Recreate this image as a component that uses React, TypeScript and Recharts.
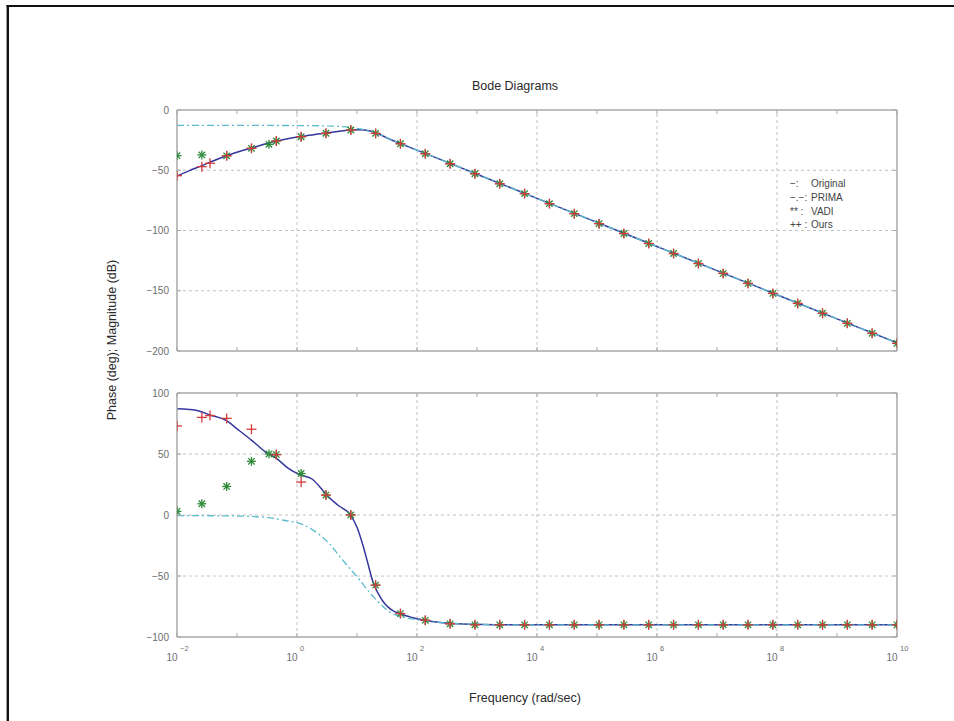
import React from 'react';
import { LineChart, Line, XAxis, YAxis, ReferenceLine } from 'recharts';

// ---- data (x = log10 of frequency in rad/sec) ----
const xTicks = [-2, -1, 0, 1, 2, 3, 4, 5, 6, 7, 8, 9, 10];
const xGrid = [0, 2, 4, 6, 8];
const magTicks = [-200, -150, -100, -50, 0];
const phaseTicks = [-100, -50, 0, 50, 100];

const origMagFreq = [-2, -1.8, -1.586, -1.4, -1.172, -1, -0.759, -0.5, -0.345, -0.15, 0.069, 0.3, 0.483, 0.7, 0.897, 1.05, 1.2, 1.31, 1.5, 1.724, 2, 3, 4, 5, 6, 7, 8, 9, 10];
const origMag = [-54.8, -50.5, -46.2, -42.3, -38, -35, -31.6, -27.8, -25.8, -23.8, -22, -20.3, -19.2, -17.6, -16.6, -16.3, -17.2, -18.8, -23.2, -27.8, -33.3, -53.3, -73.3, -93.3, -113.3, -133.3, -153.3, -173.3, -193.3];

const primaMagFreq = [-2, -1, 0, 0.5, 0.75, 1.0, 1.2, 1.31, 1.5, 1.724, 2, 3, 4, 5, 6, 7, 8, 9, 10];
const primaMag = [-12.8, -12.8, -12.9, -13.2, -13.8, -15.2, -17.3, -18.8, -23.2, -27.8, -33.3, -53.3, -73.3, -93.3, -113.3, -133.3, -153.3, -173.3, -193.3];

const origPhaseFreq = [-2, -1.8, -1.65, -1.45, -1.183, -0.983, -0.75, -0.533, -0.333, -0.15, 0.05, 0.25, 0.4, 0.483, 0.683, 0.883, 1.0, 1.1, 1.183, 1.267, 1.35, 1.467, 1.583, 1.717, 1.917, 2.133, 2.55, 2.967, 3.383, 10];
const origPhase = [87, 86.5, 85.5, 82, 77.5, 70, 61, 52, 46, 38.5, 33, 29.5, 22, 17, 8, 0.5, -10, -25, -40, -55, -64, -73, -78, -81, -84, -86.3, -88.8, -89.6, -90, -90];

const primaPhaseFreq = [-2, -1, -0.5, -0.2, 0.05, 0.383, 0.55, 0.717, 0.883, 1.05, 1.2, 1.33, 1.55, 1.75, 2.0, 2.4, 3.0, 3.5, 10];
const primaPhase = [-0.5, -0.8, -2, -4.5, -7, -16.5, -24, -34.3, -44, -53.5, -63, -70, -79.7, -83.5, -85.8, -88.3, -89.6, -90, -90];

const oursFreq = [-2, -1.586, -1.45, -1.172, -0.759, -0.345, 0.069, 0.483, 0.897, 1.31, 1.724, 2.138, 2.552, 2.966, 3.379, 3.793, 4.207, 4.621, 5.034, 5.448, 5.862, 6.276, 6.69, 7.103, 7.517, 7.931, 8.345, 8.759, 9.172, 9.586, 10];
const oursMag = [-54.5, -47, -44.2, -38, -31.8, -25.7, -22.2, -19.3, -16.6, -19.4, -28, -36.3, -44.6, -52.9, -61.2, -69.4, -77.7, -86, -94.3, -102.5, -110.8, -119.1, -127.4, -135.6, -143.9, -152.2, -160.5, -168.7, -177, -185.3, -193.6];
const oursPhase = [73, 80, 81.5, 79.2, 70.3, 49.5, 27, 16.3, 0, -57.5, -80.8, -86.3, -89.2, -90, -90, -90, -90, -90, -90, -90, -90, -90, -90, -90, -90, -90, -90, -90, -90, -90, -90];

const vadiFreq = [-2, -1.586, -1.172, -0.759, -0.467, -0.345, 0.069, 0.483, 0.897, 1.31, 1.724, 2.138, 2.552, 2.966, 3.379, 3.793, 4.207, 4.621, 5.034, 5.448, 5.862, 6.276, 6.69, 7.103, 7.517, 7.931, 8.345, 8.759, 9.172, 9.586, 10];
const vadiMag = [-37.9, -37.3, -38, -31.8, -28.5, -25.7, -22.2, -19.3, -16.6, -19.4, -28, -36.3, -44.6, -52.9, -61.2, -69.4, -77.7, -86, -94.3, -102.5, -110.8, -119.1, -127.4, -135.6, -143.9, -152.2, -160.5, -168.7, -177, -185.3, -193.6];
const vadiPhase = [3, 9.2, 23.4, 44, 50, 49.5, 34, 16.3, 0, -57.5, -80.8, -86.3, -89.2, -90, -90, -90, -90, -90, -90, -90, -90, -90, -90, -90, -90, -90, -90, -90, -90, -90, -90];

const legendPrefixes = ['\u2212:', '\u2212.\u2212:', '**  :', '++  :'];
const legendNames = ['Original', 'PRIMA', 'VADI', 'Ours'];

// ---- styles ----
const FONT = '"Liberation Sans", Arial, Helvetica, sans-serif';
const AXIS = '#a8a8a8';
const GRID = '#c2c2c2';
const TICKTXT = '#6e6e6e';
const BLUE = '#35379c';
const CYAN = '#5cbccc';
const GREEN = '#2f8a3a';
const RED = '#d23c3c';

const toData = (xs: number[], ys: number[]) => xs.map((e, i) => ({ e, y: ys[i] }));

const PlusDot = (p: any) => {
  const { cx, cy } = p;
  if (cx == null || cy == null) return <g />;
  const s = 5;
  return (
    <g>
      <line x1={cx - s} y1={cy} x2={cx + s} y2={cy} stroke={RED} strokeWidth={1.3} />
      <line x1={cx} y1={cy - s} x2={cx} y2={cy + s} stroke={RED} strokeWidth={1.3} />
    </g>
  );
};

const StarDot = (p: any) => {
  const { cx, cy } = p;
  if (cx == null || cy == null) return <g />;
  const s = 4.5;
  const d = 3.2;
  return (
    <g stroke={GREEN} strokeWidth={1.3}>
      <line x1={cx - s} y1={cy} x2={cx + s} y2={cy} />
      <line x1={cx} y1={cy - s} x2={cx} y2={cy + s} />
      <line x1={cx - d} y1={cy - d} x2={cx + d} y2={cy + d} />
      <line x1={cx - d} y1={cy + d} x2={cx + d} y2={cy - d} />
    </g>
  );
};

const XTickBottom = (p: any) => {
  const { x, y, payload, showLabel } = p;
  const v = payload.value;
  return (
    <g>
      <line x1={x} y1={y} x2={x} y2={y - 4} stroke={AXIS} strokeWidth={1} />
      {showLabel && v % 2 === 0 && (
        <g fontFamily={FONT} fill={TICKTXT}>
          <text x={x + 0.5} y={y + 24} textAnchor="end" fontSize={10}>10</text>
          <text x={x + 3} y={y + 14} textAnchor="start" fontSize={7.5}>{String(v).replace('-', '\u2212')}</text>
        </g>
      )}
    </g>
  );
};

const XTickTop = (p: any) => {
  const { x, y } = p;
  return <line x1={x} y1={y} x2={x} y2={y + 4} stroke={AXIS} strokeWidth={1} />;
};

const YTickLeft = (p: any) => {
  const { x, y, payload } = p;
  return (
    <g>
      <line x1={x} y1={y} x2={x + 4} y2={y} stroke={AXIS} strokeWidth={1} />
      <text x={x - 8} y={y + 3.5} textAnchor="end" fontSize={10} fontFamily={FONT} fill={TICKTXT}>
        {String(payload.value).replace('-', '\u2212')}
      </text>
    </g>
  );
};

const YTickRight = (p: any) => {
  const { x, y } = p;
  return <line x1={x} y1={y} x2={x - 4} y2={y} stroke={AXIS} strokeWidth={1} />;
};

type PanelProps = {
  height: number;
  margin: { top: number; right: number; bottom: number; left: number };
  bottomAxisHeight: number;
  showXLabels: boolean;
  yDomain: [number, number];
  yTicks: number[];
  yGrid: number[];
  orig: { e: number; y: number }[];
  prima: { e: number; y: number }[];
  vadi: { e: number; y: number }[];
  ours: { e: number; y: number }[];
};

const Panel = (props: PanelProps) => {
  const { height, margin, bottomAxisHeight, showXLabels, yDomain, yTicks, yGrid, orig, prima, vadi, ours } = props;
  return (
    <LineChart width={954} height={height} margin={margin}>
      <XAxis
        xAxisId={0}
        dataKey="e"
        type="number"
        domain={[-2, 10]}
        ticks={xTicks}
        interval={0}
        height={bottomAxisHeight}
        tickSize={0}
        tickMargin={0}
        tickLine={false}
        axisLine={{ stroke: AXIS, strokeWidth: 1.5 }}
        tick={(tp: any) => <XTickBottom {...tp} showLabel={showXLabels} />}
        allowDataOverflow
      />
      <XAxis
        xAxisId="top"
        orientation="top"
        dataKey="e"
        type="number"
        domain={[-2, 10]}
        ticks={xTicks}
        interval={0}
        height={10}
        tickSize={0}
        tickMargin={0}
        tickLine={false}
        axisLine={{ stroke: AXIS, strokeWidth: 1.5 }}
        tick={(tp: any) => <XTickTop {...tp} />}
        allowDataOverflow
      />
      <YAxis
        yAxisId={0}
        type="number"
        domain={yDomain}
        ticks={yTicks}
        interval={0}
        width={60}
        tickSize={0}
        tickMargin={0}
        tickLine={false}
        axisLine={{ stroke: AXIS, strokeWidth: 1.5 }}
        tick={(tp: any) => <YTickLeft {...tp} />}
        allowDataOverflow
      />
      <YAxis
        yAxisId="right"
        orientation="right"
        type="number"
        domain={yDomain}
        ticks={yTicks}
        interval={0}
        width={10}
        tickSize={0}
        tickMargin={0}
        tickLine={false}
        axisLine={{ stroke: AXIS, strokeWidth: 1.5 }}
        tick={(tp: any) => <YTickRight {...tp} />}
        allowDataOverflow
      />
      {xGrid.map((g) => (
        <ReferenceLine key={'vx' + g} x={g} xAxisId={0} yAxisId={0} stroke={GRID} strokeDasharray="3 3" strokeWidth={1} />
      ))}
      {yGrid.map((g) => (
        <ReferenceLine key={'hy' + g} y={g} xAxisId={0} yAxisId={0} stroke={GRID} strokeDasharray="3 3" strokeWidth={1} />
      ))}
      <Line data={orig} dataKey="y" xAxisId={0} yAxisId={0} type="monotone" stroke={BLUE} strokeWidth={1.5} dot={false} isAnimationActive={false} />
      <Line data={prima} dataKey="y" xAxisId={0} yAxisId={0} type="monotone" stroke={CYAN} strokeWidth={1.3} strokeDasharray="7 3 2 3" dot={false} isAnimationActive={false} />
      <Line
        data={vadi}
        dataKey="y"
        xAxisId={0}
        yAxisId={0}
        stroke="none"
        dot={(dp: any) => <StarDot key={'v' + dp.index} {...dp} />}
        activeDot={false}
        isAnimationActive={false}
      />
      <Line
        data={ours}
        dataKey="y"
        xAxisId={0}
        yAxisId={0}
        stroke="none"
        dot={(dp: any) => <PlusDot key={'o' + dp.index} {...dp} />}
        activeDot={false}
        isAnimationActive={false}
      />
    </LineChart>
  );
};

export default function App() {
  return (
    <div style={{ position: 'absolute', left: 0, top: 0, width: 954, height: 721, background: '#fff', overflow: 'hidden' }}>
      <div style={{ position: 'absolute', left: 0, top: 0 }}>
        <Panel
          height={361}
          margin={{ top: 100, right: 47, bottom: 0, left: 117 }}
          bottomAxisHeight={10}
          showXLabels={false}
          yDomain={[-200, 0]}
          yTicks={magTicks}
          yGrid={[-50, -100, -150]}
          orig={toData(origMagFreq, origMag)}
          prima={toData(primaMagFreq, primaMag)}
          vadi={toData(vadiFreq, vadiMag)}
          ours={toData(oursFreq, oursMag)}
        />
      </div>
      <div style={{ position: 'absolute', left: 0, top: 360 }}>
        <Panel
          height={317}
          margin={{ top: 23, right: 47, bottom: 0, left: 117 }}
          bottomAxisHeight={40}
          showXLabels={true}
          yDomain={[-100, 100]}
          yTicks={phaseTicks}
          yGrid={[50, 0, -50]}
          orig={toData(origPhaseFreq, origPhase)}
          prima={toData(primaPhaseFreq, primaPhase)}
          vadi={toData(vadiFreq, vadiPhase)}
          ours={toData(oursFreq, oursPhase)}
        />
      </div>
      <svg width={954} height={721} style={{ position: 'absolute', left: 0, top: 0, pointerEvents: 'none' }}>
        <line x1={6.5} y1={6} x2={954} y2={6} stroke="#111" strokeWidth={2.2} />
        <line x1={7.8} y1={5} x2={7.8} y2={721} stroke="#111" strokeWidth={2.4} />
        <text x={515} y={90} textAnchor="middle" fontSize={12.5} fontFamily={FONT} fill="#2a2a2a">Bode Diagrams</text>
        <text x={525} y={702} textAnchor="middle" fontSize={12.5} fontFamily={FONT} fill="#2a2a2a">Frequency (rad/sec)</text>
        <text transform="translate(115.5,340) rotate(-90)" x={0} y={0} textAnchor="middle" fontSize={12.5} fontFamily={FONT} fill="#2a2a2a">
          Phase (deg); Magnitude (dB)
        </text>
        {legendNames.map((n, i) => (
          <g key={n} fontFamily={FONT} fontSize={10} fill="#444">
            <text x={790} y={187 + i * 13.8}>{legendPrefixes[i]}</text>
            <text x={811} y={187 + i * 13.8}>{n}</text>
          </g>
        ))}
      </svg>
    </div>
  );
}
